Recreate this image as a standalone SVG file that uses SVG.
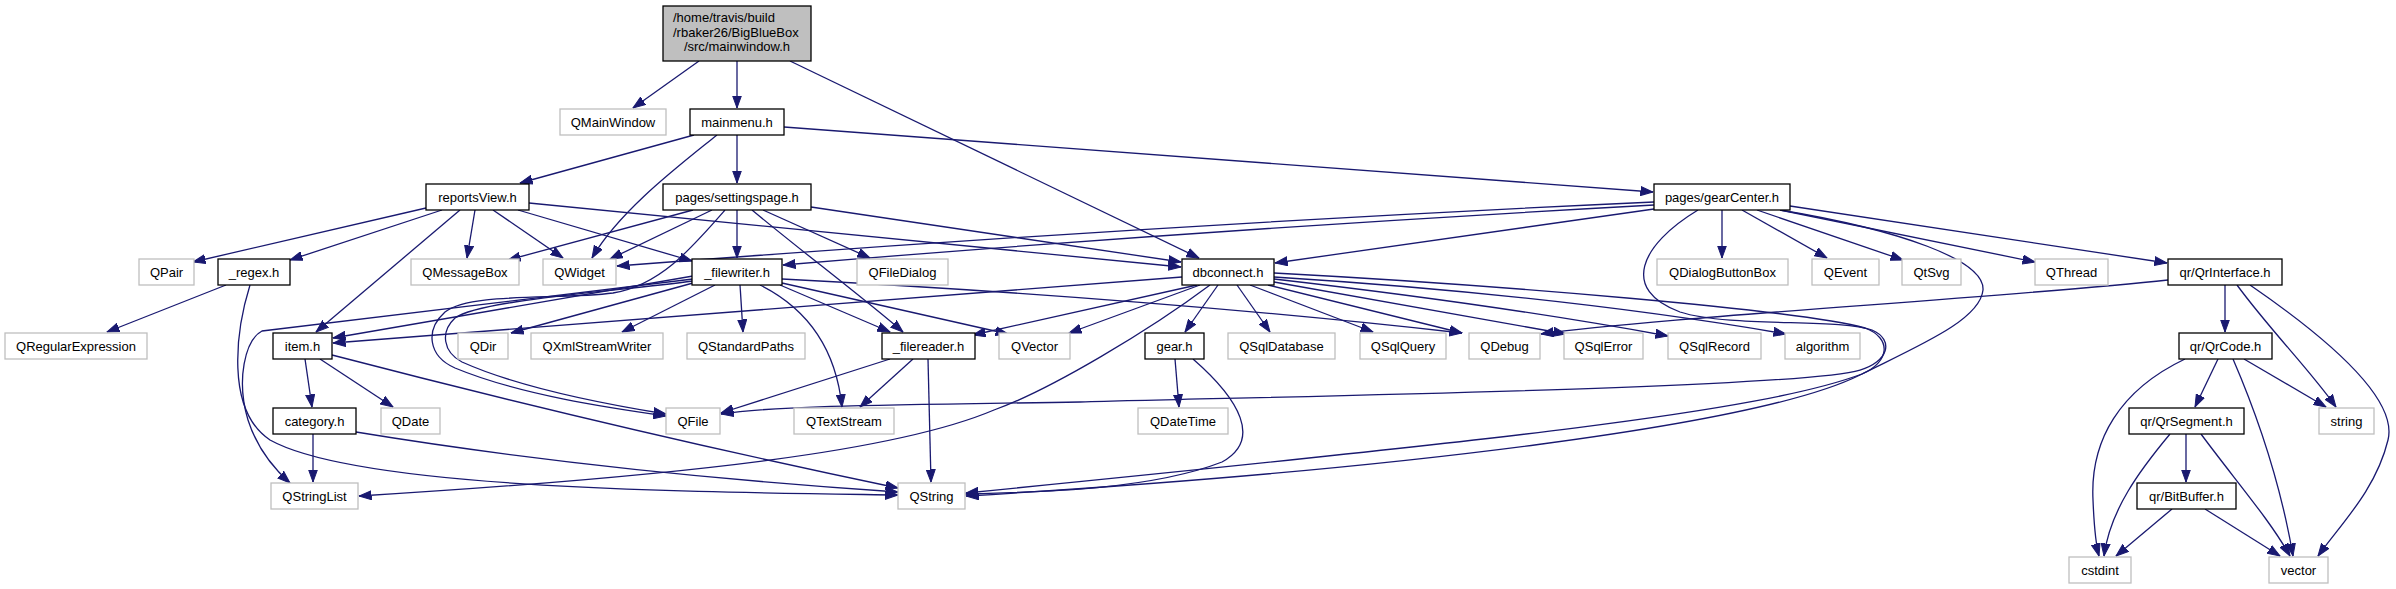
<svg xmlns="http://www.w3.org/2000/svg" width="2396" height="589" viewBox="0 0 2396 589">
<style>
.doc{fill:#fff;stroke:#000;stroke-width:1.3}
.ext{fill:#fff;stroke:#bfbfbf;stroke-width:1.3}
.root{fill:#bfbfbf;stroke:#000;stroke-width:1.3}
text{font-family:"Liberation Sans",Arial,sans-serif;font-size:13px;fill:#000;text-anchor:middle}
.e path{fill:none;stroke:#191970;stroke-width:1.3;marker-end:url(#ah)}
</style>
<defs>
<marker id="ah" markerUnits="userSpaceOnUse" markerWidth="13" markerHeight="10" viewBox="0 0 13 10" refX="12.5" refY="5" orient="auto">
<path d="M0,0.5 L12.5,5 L0,9.5 z" fill="#191970" stroke="#191970" stroke-width="1"/>
</marker>
</defs>
<rect width="2396" height="589" fill="#fff"/>
<g class="e" id="edges">
<path d="M699,61 L633,108"/>
<path d="M737,61 L737,108"/>
<path d="M790,61 L1199,258"/>
<path d="M694,135 L520,183"/>
<path d="M717,135 C680,165 620,210 592,258"/>
<path d="M737,135 L737,183"/>
<path d="M784,127 L1653,192"/>
<path d="M426,208 L193,262"/>
<path d="M442,210 L290,260"/>
<path d="M460,210 L316,332"/>
<path d="M475,210 L467,258"/>
<path d="M493,210 L563,258"/>
<path d="M518,210 L692,261"/>
<path d="M529,203 L1181,267"/>
<path d="M693,210 L508,260"/>
<path d="M712,210 L610,259"/>
<path d="M725,210 C690,250 660,285 613,293 C560,300 470,292 445,312 C425,330 428,356 455,368 C520,395 610,408 666,416"/>
<path d="M737,210 L737,258"/>
<path d="M752,210 C800,250 860,295 903,332"/>
<path d="M763,210 L870,258"/>
<path d="M811,207 L1181,262"/>
<path d="M1654,202 Q1150,225 617,266"/>
<path d="M1654,205 Q1200,230 783,265"/>
<path d="M1654,209 L1275,263"/>
<path d="M1722,210 L1722,258"/>
<path d="M1742,210 L1827,258"/>
<path d="M1757,210 L1903,260"/>
<path d="M1780,210 L2035,262"/>
<path d="M1790,206 L2167,263"/>
<path d="M1698,210 C1640,245 1620,290 1680,312 C1730,328 1840,318 1872,330 C1895,340 1888,362 1860,370 C1800,388 1300,396 1080,402 C900,405 780,405 721,414"/>
<path d="M1780,210 C1900,230 1985,260 1983,290 C1980,320 1920,345 1860,375 C1760,425 1400,470 966,496"/>
<path d="M1182,277 L333,343"/>
<path d="M1197,285 L973,335"/>
<path d="M1200,285 L1069,333"/>
<path d="M1210,285 C1150,330 1050,390 994,410 C900,450 700,475 359,496"/>
<path d="M1218,285 L1185,332"/>
<path d="M1237,285 L1270,332"/>
<path d="M1250,285 L1373,332"/>
<path d="M1268,285 L1462,333"/>
<path d="M1274,282 L1566,334"/>
<path d="M1274,279 Q1500,305 1668,336"/>
<path d="M1274,277 Q1560,295 1786,334"/>
<path d="M1274,273 C1500,285 1800,310 1865,328 C1892,338 1890,362 1862,374 C1760,412 1500,440 966,493"/>
<path d="M693,276 L333,338"/>
<path d="M693,279 L262,331 C245,340 236,380 248,420 C256,445 272,467 290,483"/>
<path d="M693,283 L511,333"/>
<path d="M715,285 L622,332"/>
<path d="M740,285 L743,332"/>
<path d="M760,285 C800,305 835,340 842,407"/>
<path d="M780,285 L890,332"/>
<path d="M782,283 L1008,334"/>
<path d="M782,279 Q1150,298 1462,333"/>
<path d="M693,281 C610,292 480,300 455,318 C440,332 443,352 462,362 C520,388 610,405 666,414"/>
<path d="M890,359 L721,413"/>
<path d="M913,359 L860,407"/>
<path d="M928,359 L931,482"/>
<path d="M305,359 L312,407"/>
<path d="M320,359 L393,407"/>
<path d="M332,355 Q620,430 898,488"/>
<path d="M313,434 L313,482"/>
<path d="M356,432 Q600,472 898,492"/>
<path d="M226,285 L107,332"/>
<path d="M250,285 C236,330 225,410 270,440 C360,490 700,492 898,495"/>
<path d="M1175,359 L1179,407"/>
<path d="M1193,359 C1240,400 1262,440 1222,462 C1150,490 1040,492 966,494"/>
<path d="M2225,285 L2225,332"/>
<path d="M2237,285 C2270,330 2310,370 2336,407"/>
<path d="M2250,285 C2330,340 2398,400 2388,440 C2376,490 2340,525 2318,556"/>
<path d="M2168,280 C2000,298 1650,318 1541,334"/>
<path d="M2185,359 C2120,390 2090,440 2093,500 C2094,525 2096,545 2099,556"/>
<path d="M2218,359 L2195,407"/>
<path d="M2233,359 C2255,410 2280,480 2293,556"/>
<path d="M2244,359 L2326,407"/>
<path d="M2170,434 C2140,470 2110,510 2104,556"/>
<path d="M2186,434 L2186,482"/>
<path d="M2201,434 C2235,480 2270,520 2290,556"/>
<path d="M2172,509 L2116,556"/>
<path d="M2205,509 L2280,556"/>
</g>
<g id="mainwindow"><rect class="root" x="663" y="6" width="148" height="55"/><text x="673" y="22" style="text-anchor:start">/home/travis/build</text><text x="673" y="37" style="text-anchor:start">/rbaker26/BigBlueBox</text><text x="737" y="51">/src/mainwindow.h</text></g>
<g id="QMainWindow"><rect class="ext" x="560" y="109" width="106" height="26"/><text x="613" y="126.5">QMainWindow</text></g>
<g id="mainmenu"><rect class="doc" x="690" y="109" width="94" height="26"/><text x="737" y="126.5">mainmenu.h</text></g>
<g id="reportsView"><rect class="doc" x="426" y="184" width="103" height="26"/><text x="477.5" y="201.5">reportsView.h</text></g>
<g id="settingspage"><rect class="doc" x="663" y="184" width="148" height="26"/><text x="737" y="201.5">pages/settingspage.h</text></g>
<g id="gearCenter"><rect class="doc" x="1654" y="184" width="136" height="26"/><text x="1722" y="201.5">pages/gearCenter.h</text></g>
<g id="QPair"><rect class="ext" x="139" y="259" width="55" height="26"/><text x="166.5" y="276.5">QPair</text></g>
<g id="regex"><rect class="doc" x="218" y="259" width="72" height="26"/><text x="254" y="276.5">_regex.h</text></g>
<g id="QMessageBox"><rect class="ext" x="411" y="259" width="108" height="26"/><text x="465" y="276.5">QMessageBox</text></g>
<g id="QWidget"><rect class="ext" x="543" y="259" width="73" height="26"/><text x="579.5" y="276.5">QWidget</text></g>
<g id="filewriter"><rect class="doc" x="692" y="259" width="90" height="26"/><text x="737" y="276.5">_filewriter.h</text></g>
<g id="QFileDialog"><rect class="ext" x="857" y="259" width="91" height="26"/><text x="902.5" y="276.5">QFileDialog</text></g>
<g id="dbconnect"><rect class="doc" x="1182" y="259" width="92" height="26"/><text x="1228" y="276.5">dbconnect.h</text></g>
<g id="QDialogButtonBox"><rect class="ext" x="1657" y="259" width="131" height="26"/><text x="1722.5" y="276.5">QDialogButtonBox</text></g>
<g id="QEvent"><rect class="ext" x="1812" y="259" width="67" height="26"/><text x="1845.5" y="276.5">QEvent</text></g>
<g id="QtSvg"><rect class="ext" x="1902" y="259" width="59" height="26"/><text x="1931.5" y="276.5">QtSvg</text></g>
<g id="QThread"><rect class="ext" x="2035" y="259" width="73" height="26"/><text x="2071.5" y="276.5">QThread</text></g>
<g id="QrInterface"><rect class="doc" x="2168" y="259" width="114" height="26"/><text x="2225" y="276.5">qr/QrInterface.h</text></g>
<g id="QRegularExpression"><rect class="ext" x="5" y="333" width="142" height="26"/><text x="76" y="350.5">QRegularExpression</text></g>
<g id="item"><rect class="doc" x="273" y="333" width="59" height="26"/><text x="302.5" y="350.5">item.h</text></g>
<g id="QDir"><rect class="ext" x="458" y="333" width="50" height="26"/><text x="483" y="350.5">QDir</text></g>
<g id="QXmlStreamWriter"><rect class="ext" x="531" y="333" width="132" height="26"/><text x="597" y="350.5">QXmlStreamWriter</text></g>
<g id="QStandardPaths"><rect class="ext" x="687" y="333" width="118" height="26"/><text x="746" y="350.5">QStandardPaths</text></g>
<g id="filereader"><rect class="doc" x="882" y="333" width="93" height="26"/><text x="928.5" y="350.5">_filereader.h</text></g>
<g id="QVector"><rect class="ext" x="999" y="333" width="71" height="26"/><text x="1034.5" y="350.5">QVector</text></g>
<g id="gear"><rect class="doc" x="1145" y="333" width="59" height="26"/><text x="1174.5" y="350.5">gear.h</text></g>
<g id="QSqlDatabase"><rect class="ext" x="1228" y="333" width="107" height="26"/><text x="1281.5" y="350.5">QSqlDatabase</text></g>
<g id="QSqlQuery"><rect class="ext" x="1360" y="333" width="86" height="26"/><text x="1403" y="350.5">QSqlQuery</text></g>
<g id="QDebug"><rect class="ext" x="1469" y="333" width="71" height="26"/><text x="1504.5" y="350.5">QDebug</text></g>
<g id="QSqlError"><rect class="ext" x="1564" y="333" width="79" height="26"/><text x="1603.5" y="350.5">QSqlError</text></g>
<g id="QSqlRecord"><rect class="ext" x="1668" y="333" width="93" height="26"/><text x="1714.5" y="350.5">QSqlRecord</text></g>
<g id="algorithm"><rect class="ext" x="1785" y="333" width="75" height="26"/><text x="1822.5" y="350.5">algorithm</text></g>
<g id="QrCode"><rect class="doc" x="2179" y="333" width="93" height="26"/><text x="2225.5" y="350.5">qr/QrCode.h</text></g>
<g id="category"><rect class="doc" x="273" y="408" width="83" height="26"/><text x="314.5" y="425.5">category.h</text></g>
<g id="QDate"><rect class="ext" x="381" y="408" width="59" height="26"/><text x="410.5" y="425.5">QDate</text></g>
<g id="QFile"><rect class="ext" x="666" y="408" width="54" height="26"/><text x="693" y="425.5">QFile</text></g>
<g id="QTextStream"><rect class="ext" x="794" y="408" width="100" height="26"/><text x="844" y="425.5">QTextStream</text></g>
<g id="QDateTime"><rect class="ext" x="1138" y="408" width="90" height="26"/><text x="1183" y="425.5">QDateTime</text></g>
<g id="QrSegment"><rect class="doc" x="2129" y="408" width="115" height="26"/><text x="2186.5" y="425.5">qr/QrSegment.h</text></g>
<g id="string"><rect class="ext" x="2319" y="408" width="55" height="26"/><text x="2346.5" y="425.5">string</text></g>
<g id="QStringList"><rect class="ext" x="271" y="483" width="87" height="26"/><text x="314.5" y="500.5">QStringList</text></g>
<g id="QString"><rect class="ext" x="898" y="483" width="67" height="26"/><text x="931.5" y="500.5">QString</text></g>
<g id="BitBuffer"><rect class="doc" x="2137" y="483" width="99" height="26"/><text x="2186.5" y="500.5">qr/BitBuffer.h</text></g>
<g id="cstdint"><rect class="ext" x="2069" y="557" width="62" height="26"/><text x="2100" y="574.5">cstdint</text></g>
<g id="vector"><rect class="ext" x="2269" y="557" width="59" height="26"/><text x="2298.5" y="574.5">vector</text></g>
</svg>
